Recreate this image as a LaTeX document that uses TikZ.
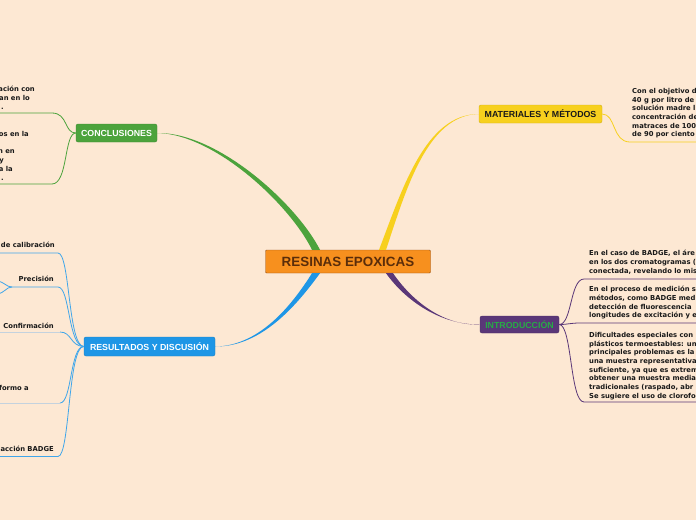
\documentclass[tikz,border=0pt]{standalone}
\usepackage{fontspec}
\usepackage{tikz}
\usetikzlibrary{calc,positioning}
\newfontfamily\boxfont{Liberation Sans}
\newfontfamily\leaffont{DejaVu Sans}
\definecolor{bgpeach}{RGB}{253,232,211}
\definecolor{rootorange}{RGB}{247,144,30}
\definecolor{rootedge}{RGB}{150,80,20}
\definecolor{roottext}{RGB}{90,45,10}
\definecolor{brgreen}{RGB}{76,163,60}
\definecolor{bryellow}{RGB}{247,208,30}
\definecolor{brblue}{RGB}{30,150,230}
\definecolor{brpurple}{RGB}{90,55,120}
\definecolor{introtext}{RGB}{40,170,70}
\definecolor{paleline}{RGB}{196,210,222}
\tikzset{
  root/.style={draw=rootedge, fill=rootorange, text=roottext, rounded corners=1pt,
    minimum width=165pt, minimum height=23pt, inner sep=0pt,
    font=\boxfont\bfseries\fontsize{13.4}{15}\selectfont},
  topic/.style={rounded corners=2pt, inner sep=0pt, minimum height=18pt,
    font=\boxfont\bfseries\fontsize{8.8}{10}\selectfont},
  leaf/.style={inner sep=0pt, text=black!90,
    font=\leaffont\bfseries\fontsize{6.8}{8.7}\selectfont},
  greenleaf/.style={draw=brgreen, line width=0.8pt},
  yellowleaf/.style={draw=bryellow, line width=0.8pt},
  blueleaf/.style={draw=brblue!85!white, line width=0.8pt},
  paleleaf/.style={draw=paleline, line width=0.9pt},
  purpleleaf/.style={draw=brpurple, line width=0.8pt},
}
\begin{document}
\begin{tikzpicture}[x=1pt,y=-1pt]
\useasboundingbox (0,0) rectangle (696,520);
\clip (0,0) rectangle (696,520);
\fill[bgpeach] (0,0) rectangle (696,520);

\node[root] (root) at (348,261.5) {RESINAS EPOXICAS};
\node[topic, fill=brgreen, draw=brgreen!85!black, text=white, minimum width=81pt] (con) at (116.5,133) {CONCLUSIONES};
\node[topic, fill=bryellow, draw=bryellow!85!black, text=black!90, minimum width=123pt] (mat) at (540.5,114) {MATERIALES Y MÉTODOS};
\node[topic, fill=brblue, draw=brblue!85!black, text=white, minimum width=131pt, minimum height=19pt] (res) at (149.5,346.5) {RESULTADOS Y DISCUSIÓN};
\node[topic, fill=brpurple, draw=brpurple!85!black, text=introtext, minimum width=79pt, minimum height=17pt] (intro) at (519.5,324.5) {INTRODUCCIÓN};

\fill[brgreen] (con.east) .. controls (215,134) and (290,205) .. ($(root.north)+(-36,0)$)
  -- ($(root.north)+(-28,0)$) .. controls (296,203) and (217,132) .. (con.east) -- cycle;
\fill[bryellow] (mat.west) .. controls (425,114) and (402,190) .. ($(root.north)+(31,0)$)
  -- ($(root.north)+(38,0)$) .. controls (406,190) and (427,115) .. (mat.west) -- cycle;
\fill[brblue] (res.east) .. controls (262,346) and (295,300) .. ($(root.south)+(-36,0)$)
  -- ($(root.south)+(-28,0)$) .. controls (299,302) and (263,347) .. (res.east) -- cycle;
\fill[brpurple] (intro.west) .. controls (440,325) and (405,300) .. ($(root.south)+(38,0)$)
  -- ($(root.south)+(45,0)$) .. controls (410,298) and (441,326) .. (intro.west) -- cycle;

\coordinate (c1) at (-2,113);
\coordinate (c2) at (-2,184);
\draw[greenleaf] (con.west) .. controls (64,133) and (68,113) .. (52,113) -- (c1);
\draw[greenleaf] (con.west) .. controls (64,133) and (68,184) .. (52,184) -- (c2);
\node[leaf, anchor=base east] (c1a) at (35,91.5) {ación con};
\node[leaf, anchor=base east] (c1b) at (30,100.5) {an en lo};
\node[leaf, anchor=base east] (c1c) at (4,109.5) {.};
\node[leaf, anchor=base east] (c2a) at (29,136.5) {os en la};
\node[leaf, anchor=base east] (c2b) at (15,153.5) {n en};
\node[leaf, anchor=base east] (c2c) at (4,162.5) {y};
\node[leaf, anchor=base east] (c2d) at (13,171.5) {a la};
\node[leaf, anchor=base east] (c2e) at (4,180.5) {.};

\coordinate (m1) at (698,142);
\draw[yellowleaf] (mat.east) .. controls (616,114) and (612,142) .. (630,142) -- (m1);
\node[leaf, align=left, anchor=north west] (m1t) at (632,88) {Con el objetivo d\\40 g por litro de\\solución madre l\\concentración de\\matraces de 100\\de 90 por ciento};

\coordinate (r1) at (-2,253);
\coordinate (r2) at (12,287);
\coordinate (r3) at (60,332);
\coordinate (r4) at (60,403);
\coordinate (r5) at (-2,456.5);
\draw[blueleaf] (res.west) .. controls (68,346) and (70,253) .. (58,253) -- (r1);
\draw[blueleaf] (res.west) .. controls (68,346) and (70,287) .. (58,287) -- (r2);
\draw[blueleaf] (res.west) .. controls (70,346) and (72,332) .. (r3);
\draw[paleleaf] (r3) -- (-2,332);
\draw[blueleaf] (res.west) .. controls (70,346) and (72,403) .. (r4);
\draw[paleleaf] (r4) -- (-2,403);
\draw[blueleaf] (res.west) .. controls (68,346) and (70,456.5) .. (58,456.5) -- (r5);
\draw[blueleaf] (r2) .. controls (6,287) and (5,282) .. (-3,281);
\draw[blueleaf] (r2) .. controls (6,287) and (5,293) .. (-3,294);
\node[leaf, anchor=base east] (r1t) at (55,247.5) {de calibración};
\node[leaf, anchor=base east] (r2t) at (54,281.8) {Precisión};
\node[leaf, anchor=base east] (r3t) at (54,328) {Confirmación};
\node[leaf, anchor=base east] (r4t) at (29,390.8) {formo a};
\node[leaf, anchor=base east] (r5t) at (54,451.8) {acción BADGE};

\coordinate (i1) at (698,279);
\coordinate (i2) at (698,323);
\coordinate (i3) at (698,402);
\draw[purpleleaf] (intro.east) .. controls (572,324.5) and (570,279) .. (584,279) -- (i1);
\draw[purpleleaf] (intro.east) .. controls (568,324.5) and (570,323) .. (580,323) -- (i2);
\draw[purpleleaf] (intro.east) .. controls (572,324.5) and (570,402) .. (584,402) -- (i3);
\node[leaf, align=left, anchor=north west] (i1t) at (589,250) {En el caso de BADGE, el áre\\en los dos cromatogramas (\\conectada, revelando lo mis};
\node[leaf, align=left, anchor=north west] (i2t) at (589,286) {En el proceso de medición s\\métodos, como BADGE med\\detección de fluorescencia\\longitudes de excitación y e};
\node[leaf, align=left, anchor=north west] (i3t) at (589,332) {Dificultades especiales con\\plásticos termoestables: un\\principales problemas es la\\una muestra representativa\\suficiente, ya que es extrem\\obtener una muestra media\\tradicionales (raspado, abr\\Se sugiere el uso de clorofo};
\end{tikzpicture}
\end{document}
